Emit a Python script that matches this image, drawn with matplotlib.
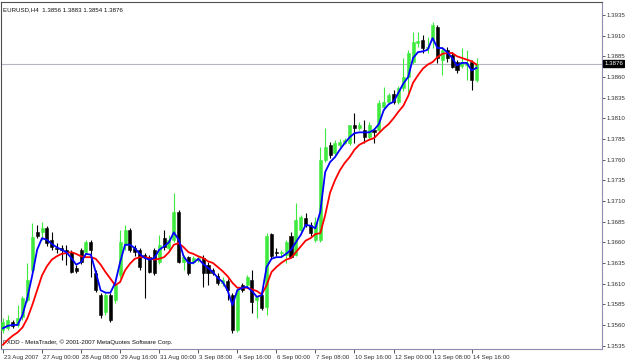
import numpy as np
import matplotlib
matplotlib.use('Agg')
import matplotlib.pyplot as plt
import matplotlib.transforms as mtransforms

plt.rcParams['font.family'] = ['Liberation Sans', 'DejaVu Sans']

# EURUSD H4, 23 Aug 2007 16:00 .. 14 Sep 2007 20:00
opens = [1.3554, 1.3556, 1.3564, 1.3560, 1.3570, 1.3590, 1.3626, 1.3672, 1.3672, 1.3677,
         1.3663, 1.3653, 1.3653, 1.3651, 1.3648, 1.3629, 1.3651, 1.3648, 1.3660, 1.3623,
         1.3596, 1.3576, 1.3596, 1.3590, 1.3620, 1.3657, 1.3675, 1.3653, 1.3651, 1.3645,
         1.3642, 1.3651, 1.3636, 1.3665, 1.3653, 1.3663, 1.3697, 1.3636, 1.3642, 1.3636,
         1.3639, 1.3641, 1.3633, 1.3626, 1.3619, 1.3611, 1.3613, 1.3596, 1.3554, 1.3608,
         1.3608, 1.3614, 1.3590, 1.3596, 1.3582, 1.3670, 1.3648, 1.3647, 1.3645, 1.3668,
         1.3645, 1.3675, 1.3689, 1.3681, 1.3663, 1.3663, 1.3760, 1.3778, 1.3768, 1.3778,
         1.3780, 1.3780, 1.3802, 1.3798, 1.3796, 1.3787, 1.3796, 1.3796, 1.3824, 1.3830,
         1.3839, 1.3830, 1.3847, 1.3860, 1.3878, 1.3901, 1.3905, 1.3895, 1.3905, 1.3920,
         1.3881, 1.3893, 1.3887, 1.3878, 1.3873, 1.3874, 1.3878, 1.3856]
highs = [1.3568, 1.3572, 1.3566, 1.3584, 1.3595, 1.3635, 1.3683, 1.3681, 1.3685, 1.3680,
         1.3672, 1.3659, 1.3657, 1.3657, 1.3651, 1.3633, 1.3653, 1.3663, 1.3663, 1.3626,
         1.3599, 1.3599, 1.3599, 1.3610, 1.3675, 1.3681, 1.3677, 1.3657, 1.3653, 1.3647,
         1.3645, 1.3653, 1.3669, 1.3675, 1.3669, 1.3720, 1.3699, 1.3645, 1.3643, 1.3643,
         1.3645, 1.3645, 1.3636, 1.3629, 1.3623, 1.3618, 1.3616, 1.3599, 1.3605, 1.3611,
         1.3620, 1.3626, 1.3595, 1.3599, 1.3671, 1.3671, 1.3653, 1.3651, 1.3663, 1.3672,
         1.3708, 1.3693, 1.3695, 1.3685, 1.3691, 1.3775, 1.3798, 1.3781, 1.3784, 1.3785,
         1.3786, 1.3802, 1.3816, 1.3806, 1.3808, 1.3806, 1.3798, 1.3832, 1.3848, 1.3841,
         1.3844, 1.3849, 1.3883, 1.3893, 1.3915, 1.3915, 1.3911, 1.3908, 1.3927, 1.3923,
         1.3896, 1.3896, 1.3890, 1.3881, 1.3895, 1.3893, 1.3881, 1.3883]
lows = [1.3550, 1.3554, 1.3556, 1.3557, 1.3566, 1.3588, 1.3624, 1.3665, 1.3663, 1.3655,
        1.3651, 1.3647, 1.3639, 1.3633, 1.3623, 1.3623, 1.3634, 1.3646, 1.3618, 1.3600,
        1.3568, 1.3572, 1.3564, 1.3587, 1.3617, 1.3651, 1.3648, 1.3643, 1.3626, 1.3593,
        1.3623, 1.3620, 1.3634, 1.3651, 1.3651, 1.3660, 1.3635, 1.3626, 1.3620, 1.3634,
        1.3636, 1.3606, 1.3608, 1.3620, 1.3608, 1.3607, 1.3590, 1.3550, 1.3551, 1.3600,
        1.3606, 1.3574, 1.3568, 1.3578, 1.3572, 1.3641, 1.3643, 1.3643, 1.3635, 1.3641,
        1.3643, 1.3672, 1.3678, 1.3668, 1.3660, 1.3660, 1.3757, 1.3762, 1.3766, 1.3775,
        1.3779, 1.3778, 1.3780, 1.3796, 1.3780, 1.3785, 1.3780, 1.3793, 1.3820, 1.3827,
        1.3827, 1.3827, 1.3843, 1.3841, 1.3876, 1.3896, 1.3889, 1.3889, 1.3895, 1.3877,
        1.3862, 1.3878, 1.3871, 1.3865, 1.3871, 1.3856, 1.3844, 1.3854]
closes = [1.3564, 1.3566, 1.3559, 1.3568, 1.3593, 1.3614, 1.3666, 1.3668, 1.3677, 1.3659,
          1.3654, 1.3652, 1.3651, 1.3648, 1.3624, 1.3625, 1.3636, 1.3660, 1.3651, 1.3602,
          1.3572, 1.3596, 1.3566, 1.3608, 1.3660, 1.3675, 1.3651, 1.3648, 1.3630, 1.3642,
          1.3624, 1.3623, 1.3657, 1.3654, 1.3663, 1.3697, 1.3636, 1.3642, 1.3623, 1.3641,
          1.3641, 1.3623, 1.3623, 1.3623, 1.3611, 1.3614, 1.3602, 1.3554, 1.3602, 1.3602,
          1.3618, 1.3588, 1.3594, 1.3580, 1.3668, 1.3643, 1.3647, 1.3648, 1.3660, 1.3642,
          1.3687, 1.3691, 1.3681, 1.3671, 1.3685, 1.3760, 1.3775, 1.3766, 1.3780, 1.3781,
          1.3784, 1.3802, 1.3798, 1.3802, 1.3787, 1.3802, 1.3793, 1.3829, 1.3830, 1.3838,
          1.3830, 1.3847, 1.3860, 1.3889, 1.3902, 1.3904, 1.3895, 1.3896, 1.3923, 1.3883,
          1.3893, 1.3883, 1.3872, 1.3868, 1.3878, 1.3877, 1.3856, 1.3876]

# moving averages as shown on the chart
ma_fast = [1.3556, 1.3559, 1.3560, 1.3560, 1.3572, 1.3593, 1.3620, 1.3651, 1.3665, 1.3663,
           1.3658, 1.3654, 1.3651, 1.3648, 1.3641, 1.3633, 1.3636, 1.3646, 1.3645, 1.3624,
           1.3602, 1.3599, 1.3599, 1.3611, 1.3636, 1.3657, 1.3657, 1.3653, 1.3646, 1.3641,
           1.3639, 1.3641, 1.3651, 1.3655, 1.3660, 1.3672, 1.3663, 1.3643, 1.3635, 1.3635,
           1.3640, 1.3634, 1.3629, 1.3624, 1.3617, 1.3612, 1.3602, 1.3584, 1.3602, 1.3605,
           1.3606, 1.3601, 1.3594, 1.3596, 1.3630, 1.3640, 1.3642, 1.3642, 1.3646, 1.3651,
           1.3660, 1.3669, 1.3681, 1.3680, 1.3677, 1.3697, 1.3745, 1.3757, 1.3763, 1.3772,
           1.3780, 1.3787, 1.3792, 1.3793, 1.3793, 1.3793, 1.3796, 1.3803, 1.3820, 1.3827,
           1.3830, 1.3841, 1.3852, 1.3860, 1.3883, 1.3890, 1.3891, 1.3893, 1.3907, 1.3895,
           1.3895, 1.3890, 1.3883, 1.3874, 1.3877, 1.3877, 1.3868, 1.3871]
ma_slow = [1.3536, 1.3542, 1.3547, 1.3551, 1.3557, 1.3568, 1.3584, 1.3602, 1.3620, 1.3631,
           1.3639, 1.3643, 1.3646, 1.3647, 1.3648, 1.3646, 1.3643, 1.3642, 1.3642, 1.3640,
           1.3633, 1.3624, 1.3616, 1.3608, 1.3612, 1.3626, 1.3634, 1.3640, 1.3642, 1.3642,
           1.3641, 1.3639, 1.3640, 1.3642, 1.3648, 1.3657, 1.3659, 1.3654, 1.3648, 1.3646,
           1.3643, 1.3641, 1.3637, 1.3635, 1.3630, 1.3625, 1.3619, 1.3611, 1.3605, 1.3605,
           1.3605, 1.3603, 1.3601, 1.3597, 1.3608, 1.3624, 1.3630, 1.3635, 1.3639, 1.3641,
           1.3648, 1.3655, 1.3662, 1.3665, 1.3670, 1.3671, 1.3693, 1.3720, 1.3735, 1.3747,
           1.3756, 1.3763, 1.3772, 1.3778, 1.3781, 1.3784, 1.3786, 1.3792, 1.3798, 1.3803,
           1.3810, 1.3818, 1.3825, 1.3837, 1.3853, 1.3862, 1.3870, 1.3875, 1.3878, 1.3884,
           1.3888, 1.3889, 1.3889, 1.3885, 1.3883, 1.3881, 1.3879, 1.3875]

tick_bars = [0, 8, 16, 24, 32, 40, 48, 56, 64, 72, 80, 88, 96]
tick_labels = ['23 Aug 2007', '27 Aug 00:00', '28 Aug 08:00', '29 Aug 16:00', '31 Aug 00:00',
               '3 Sep 08:00', '4 Sep 16:00', '6 Sep 00:00', '7 Sep 08:00', '10 Sep 16:00',
               '12 Sep 00:00', '13 Sep 08:00', '14 Sep 16:00']
price_ticks = [1.3535, 1.3560, 1.3585, 1.3610, 1.3635, 1.3660, 1.3685, 1.3710, 1.3735,
               1.3760, 1.3785, 1.3810, 1.3835, 1.3860, 1.3885, 1.3910, 1.3935]
last_price = 1.3876
title = 'EURUSD,H4  1.3856 1.3883 1.3854 1.3876'
copyright = 'FXDD - MetaTrader, \u00a9 2001-2007 MetaQuotes Software Corp.'

up_col = '#3FEA3F'
dn_col = '#000000'
axis_col = '#8C8CB4'
fs = 4.4

o = np.array(opens)
h = np.array(highs)
l = np.array(lows)
c = np.array(closes)
x = np.arange(len(o))
up = c >= o

fig = plt.figure(figsize=(6.25, 3.61), dpi=100)
fig.patch.set_facecolor('white')
ax = fig.add_axes([1.5 / 625, 12 / 361, 600.5 / 625, 347 / 361])

# current price line
ax.axhline(last_price, color='#B4B4C4', lw=0.8, zorder=1)

# wicks and bodies
ax.vlines(x[up], l[up], h[up], color=up_col, lw=0.8, zorder=2)
ax.vlines(x[~up], l[~up], h[~up], color=dn_col, lw=0.8, zorder=2)
body_lo = np.minimum(o, c)
body_h = np.maximum(np.abs(c - o), 0.00008)
ax.bar(x[up], body_h[up], bottom=body_lo[up], width=0.62, color=up_col,
       edgecolor=up_col, lw=0.4, zorder=3)
ax.bar(x[~up], body_h[~up], bottom=body_lo[~up], width=0.62, color=dn_col,
       edgecolor=dn_col, lw=0.4, zorder=3)

# moving averages
ax.plot(x, ma_slow, color='#FF0000', lw=1.3, zorder=4)
ax.plot(x, ma_fast, color='#0000FF', lw=1.3, zorder=5)

ax.set_xlim(-0.3, 122.7)
ax.set_ylim(1.35309, 1.39507)

# axes look
ax.spines['left'].set_color('#505050')
ax.spines['top'].set_color('#505050')
for s in ['bottom', 'right']:
    ax.spines[s].set_color(axis_col)
    ax.spines[s].set_linestyle((0, (1, 1)))
for s in ax.spines.values():
    s.set_linewidth(0.8)

ax.yaxis.tick_right()
ax.set_yticks(price_ticks)
ax.set_yticklabels(['%.4f' % p for p in price_ticks])
ax.tick_params(axis='y', length=2, width=0.6, color='#404040', pad=1.5,
               labelsize=fs, labelcolor='#303030')
ax.set_xticks(tick_bars)
ax.set_xticklabels(tick_labels)
ax.tick_params(axis='x', length=3, width=0.6, color='#404040', pad=1.0,
               labelsize=fs, labelcolor='#303030')
for lab in ax.get_xticklabels():
    lab.set_ha('left')
    lab.set_transform(lab.get_transform() + mtransforms.ScaledTranslation(1 / 100, 0, fig.dpi_scale_trans))

# price marker on the scale
trans = mtransforms.blended_transform_factory(ax.transAxes, ax.transData)
ax.text(1.004, last_price, '%.4f' % last_price, transform=trans, fontsize=fs,
        color='white', ha='left', va='center', zorder=10, clip_on=False,
        bbox=dict(boxstyle='square,pad=0.15', fc='black', ec='black'))

ax.text(0.003, 0.985, title, transform=ax.transAxes, fontsize=fs, color='#101010',
        ha='left', va='top')
ax.text(0.003, 0.012, copyright, transform=ax.transAxes, fontsize=fs, color='#101010',
        ha='left', va='bottom')

fig.savefig('out.png', dpi=100)
